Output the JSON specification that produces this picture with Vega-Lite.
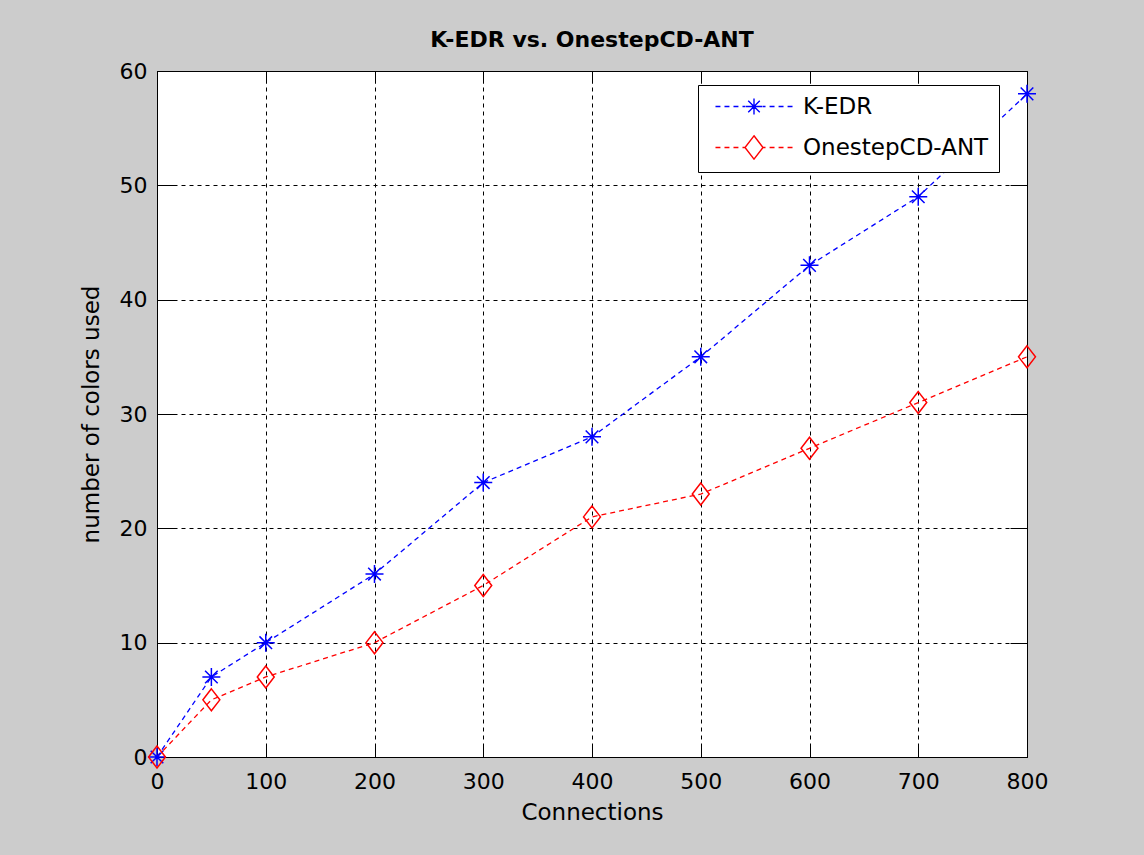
{
  "$schema": "https://vega.github.io/schema/vega-lite/v6.json",
  "width": 870,
  "height": 686,
  "autosize": {"type": "none"},
  "padding": {"left": 157, "top": 71, "right": 117, "bottom": 98},
  "background": "#cccccc",
  "title": {
    "text": "K-EDR vs. OnestepCD-ANT",
    "font": "DejaVu Sans",
    "fontSize": 22,
    "fontWeight": "bold",
    "color": "black",
    "anchor": "middle",
    "frame": "group",
    "baseline": "alphabetic",
    "offset": -9
  },
  "data": {
    "values": [
      {"series": "K-EDR", "connections": 0, "colors": 0},
      {"series": "K-EDR", "connections": 50, "colors": 7},
      {"series": "K-EDR", "connections": 100, "colors": 10},
      {"series": "K-EDR", "connections": 200, "colors": 16},
      {"series": "K-EDR", "connections": 300, "colors": 24},
      {"series": "K-EDR", "connections": 400, "colors": 28},
      {"series": "K-EDR", "connections": 500, "colors": 35},
      {"series": "K-EDR", "connections": 600, "colors": 43},
      {"series": "K-EDR", "connections": 700, "colors": 49},
      {"series": "K-EDR", "connections": 800, "colors": 58},
      {"series": "OnestepCD-ANT", "connections": 0, "colors": 0},
      {"series": "OnestepCD-ANT", "connections": 50, "colors": 5},
      {"series": "OnestepCD-ANT", "connections": 100, "colors": 7},
      {"series": "OnestepCD-ANT", "connections": 200, "colors": 10},
      {"series": "OnestepCD-ANT", "connections": 300, "colors": 15},
      {"series": "OnestepCD-ANT", "connections": 400, "colors": 21},
      {"series": "OnestepCD-ANT", "connections": 500, "colors": 23},
      {"series": "OnestepCD-ANT", "connections": 600, "colors": 27},
      {"series": "OnestepCD-ANT", "connections": 700, "colors": 31},
      {"series": "OnestepCD-ANT", "connections": 800, "colors": 35}
    ]
  },
  "layer": [
    {
      "mark": {"type": "line", "strokeDash": [5, 4], "strokeWidth": 1.3},
      "encoding": {
        "x": {
          "field": "connections", "type": "quantitative",
          "scale": {"domain": [0, 800], "nice": false, "zero": false},
          "axis": {
            "orient": "bottom",
            "values": [0, 100, 200, 300, 400, 500, 600, 700, 800],
            "grid": true, "gridColor": "black", "gridDash": [4, 4], "gridOpacity": 1, "gridWidth": 1,
            "ticks": true, "tickSize": -12, "tickColor": "black", "tickWidth": 1,
            "domain": true, "domainColor": "black", "domainWidth": 1,
            "labelFont": "DejaVu Sans", "labelFontSize": 22, "labelColor": "black",
            "labelBaseline": "alphabetic", "labelPadding": 43, "labelFlush": false, "labelOverlap": false,
            "title": "Connections", "titleFont": "DejaVu Sans", "titleFontSize": 23, "titleFontWeight": "normal",
            "titleColor": "black", "titleBaseline": "alphabetic", "titleAlign": "center", "titleX": 435, "titleY": 62
          }
        },
        "y": {
          "field": "colors", "type": "quantitative",
          "scale": {"domain": [0, 60], "nice": false, "zero": false},
          "axis": {
            "orient": "left",
            "values": [0, 10, 20, 30, 40, 50, 60],
            "grid": true, "gridColor": "black", "gridDash": [4, 4], "gridOpacity": 1, "gridWidth": 1,
            "ticks": true, "tickSize": -17, "tickColor": "black", "tickWidth": 1,
            "domain": true, "domainColor": "black", "domainWidth": 1,
            "labelFont": "DejaVu Sans", "labelFontSize": 22, "labelColor": "black",
            "labelPadding": 27, "labelFlush": false, "labelOverlap": false,
            "title": "number of colors used", "titleFont": "DejaVu Sans", "titleFontSize": 23, "titleFontWeight": "normal",
            "titleColor": "black", "titleAngle": -90, "titleBaseline": "alphabetic", "titleAlign": "center", "titleX": -59, "titleY": 343
          }
        },
        "stroke": {
          "field": "series", "type": "nominal",
          "scale": {"domain": ["K-EDR", "OnestepCD-ANT"], "range": ["#0000ff", "#ff0000"]},
          "legend": null
        }
      }
    },
    {
      "mark": {"type": "point", "filled": false, "size": 324, "strokeWidth": 1.5, "opacity": 1},
      "encoding": {
        "x": {
          "field": "connections", "type": "quantitative",
          "scale": {"domain": [0, 800], "nice": false, "zero": false},
          "axis": {
            "orient": "top", "values": [0, 100, 200, 300, 400, 500, 600, 700, 800],
            "grid": false, "labels": false, "domain": false, "title": null,
            "ticks": true, "tickSize": -12, "tickColor": "black", "tickWidth": 1
          }
        },
        "y": {
          "field": "colors", "type": "quantitative",
          "scale": {"domain": [0, 60], "nice": false, "zero": false},
          "axis": {
            "orient": "right", "values": [0, 10, 20, 30, 40, 50, 60],
            "grid": false, "labels": false, "domain": false, "title": null,
            "ticks": true, "tickSize": -17, "tickColor": "black", "tickWidth": 1
          }
        },
        "stroke": {
          "field": "series", "type": "nominal",
          "scale": {"domain": ["K-EDR", "OnestepCD-ANT"], "range": ["#0000ff", "#ff0000"]},
          "legend": null
        },
        "shape": {
          "field": "series", "type": "nominal",
          "scale": {
            "domain": ["K-EDR", "OnestepCD-ANT"],
            "range": [
              "M-1,0H1M0,-1V1M-0.7,-0.7L0.7,0.7M-0.7,0.7L0.7,-0.7",
              "M0,-1.22L0.94,0L0,1.22L-0.94,0Z"
            ]
          },
          "legend": null
        }
      }
    },
    {
      "mark": {"type": "point", "filled": false, "size": 324, "strokeWidth": 1.4, "opacity": 0},
      "encoding": {
        "x": {"field": "connections", "type": "quantitative", "axis": null},
        "y": {"field": "colors", "type": "quantitative", "axis": null},
        "color": {
          "field": "series", "type": "nominal",
          "scale": {"domain": ["K-EDR", "OnestepCD-ANT"], "range": ["#0000ff", "#ff0000"]},
          "legend": {
            "orient": "none", "legendX": 541, "legendY": 14,
            "title": null,
            "padding": 10, "fillColor": "white", "strokeColor": "black", "cornerRadius": 0,
            "labelFont": "DejaVu Sans", "labelFontSize": 23, "labelColor": "black", "labelLimit": 0,
            "symbolSize": 324, "symbolOffset": 34.5, "labelOffset": 37.5, "rowPadding": 14,
            "symbolStrokeWidth": 1.4, "symbolFillColor": "transparent", "symbolOpacity": 1
          }
        },
        "shape": {
          "field": "series", "type": "nominal",
          "scale": {
            "domain": ["K-EDR", "OnestepCD-ANT"],
            "range": [
              "M-4.28,0H-3.73M-3.28,0H-2.73M-2.28,0H-1.73M-1.28,0H-0.95M0.95,0H1.28M1.73,0H2.28M2.73,0H3.28M3.73,0H4.28M-0.9,0H0.9M0,-0.9V0.9M-0.64,-0.64L0.64,0.64M-0.64,0.64L0.64,-0.64",
              "M-4.28,0H-3.73M-3.28,0H-2.73M-2.28,0H-1.73M-1.28,0H-1M1,0H1.28M1.73,0H2.28M2.73,0H3.28M3.73,0H4.28M0,-1.3L1,0L0,1.3L-1,0Z"
            ]
          },
          "legend": {
            "orient": "none", "legendX": 541, "legendY": 14,
            "title": null,
            "padding": 10, "fillColor": "white", "strokeColor": "black", "cornerRadius": 0,
            "labelFont": "DejaVu Sans", "labelFontSize": 23, "labelColor": "black", "labelLimit": 0,
            "symbolSize": 324, "symbolOffset": 34.5, "labelOffset": 37.5, "rowPadding": 14,
            "symbolStrokeWidth": 1.4, "symbolFillColor": "transparent", "symbolOpacity": 1
          }
        }
      }
    }
  ],
  "resolve": {
    "axis": {"x": "independent", "y": "independent"},
    "scale": {"shape": "independent", "color": "independent"}
  },
  "config": {
    "view": {"stroke": "black", "strokeWidth": 1, "fill": "white"},
    "legend": {"strokeWidth": 1},
    "font": "DejaVu Sans"
  }
}
